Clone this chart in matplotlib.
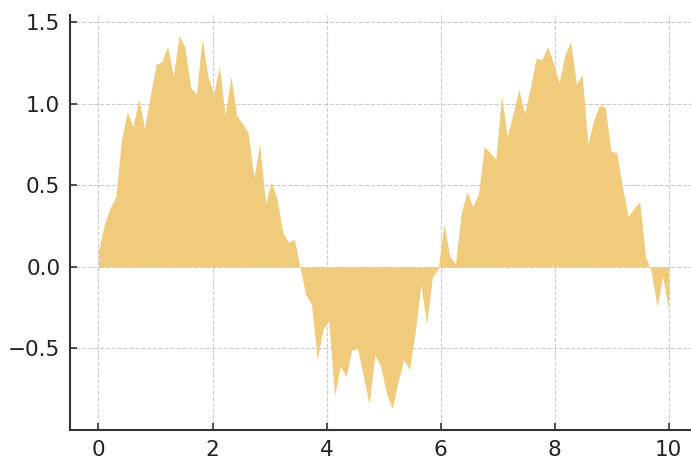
import numpy as np
import matplotlib
matplotlib.use("Agg")
import matplotlib.pyplot as plt

x = np.linspace(0, 10, 100)
y = [
    0.10, 0.26, 0.36, 0.43, 0.78, 0.95, 0.86, 1.03, 0.85, 1.05,
    1.24, 1.26, 1.35, 1.17, 1.42, 1.35, 1.10, 1.06, 1.40, 1.17,
    1.06, 1.23, 0.93, 1.17, 0.93, 0.88, 0.82, 0.545, 0.755, 0.39,
    0.52, 0.42, 0.21, 0.15, 0.17, 0.00, -0.17, -0.23, -0.57, -0.38,
    -0.33, -0.79, -0.61, -0.67, -0.51, -0.50, -0.67, -0.84, -0.54, -0.61,
    -0.77, -0.87, -0.71, -0.57, -0.63, -0.40, -0.11, -0.35, -0.06, -0.01,
    0.26, 0.065, 0.02, 0.33, 0.46, 0.37, 0.45, 0.74, 0.70, 0.66,
    1.05, 0.80, 0.94, 1.09, 0.94, 1.10, 1.28, 1.27, 1.35, 1.25,
    1.13, 1.30, 1.38, 1.12, 1.18, 0.75, 0.90, 0.99, 0.98, 0.71,
    0.70, 0.49, 0.31, 0.36, 0.40, 0.065, -0.03, -0.24, -0.06, -0.26,
]
y = np.array(y)
xticks = [0, 2, 4, 6, 8, 10]
yticks = [-0.5, 0.0, 0.5, 1.0, 1.5]

fig = plt.figure(figsize=(6.91, 4.61), dpi=100)
ax = fig.add_axes([0.1013, 0.0672, 0.9074, 0.9003])
ax.fill_between(x, y, 0, color="#EFCB7B", linewidth=0)

ax.set_xlim(-0.5, 10.5)
ax.set_ylim(-1.0, 1.545)
ax.set_xticks(xticks)
ax.set_yticks(yticks)
ax.set_yticklabels([f"{v:.1f}".replace("-", "\u2212") for v in yticks])

ax.grid(True, linestyle="--", color="#cccccc", linewidth=0.8)
ax.set_axisbelow(True)
for s in ["top", "right"]:
    ax.spines[s].set_visible(False)
for s in ["left", "bottom"]:
    ax.spines[s].set_color("#333333")
    ax.spines[s].set_linewidth(1.5)
ax.tick_params(direction="in", length=5, width=1.2, color="#333333",
               labelsize=15.5, labelcolor="#222222", pad=7)

fig.savefig("out.png", dpi=100)
